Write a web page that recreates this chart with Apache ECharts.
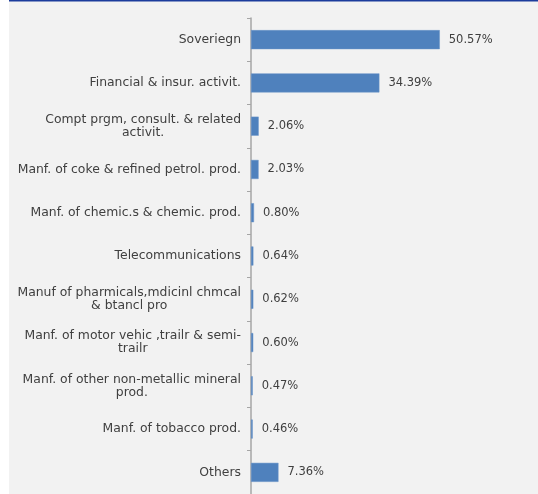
<!DOCTYPE html>
<html>
<head>
<meta charset="utf-8">
<script src="https://cdn.jsdelivr.net/npm/echarts@6/dist/echarts.min.js"></script>
<style>
  html, body { margin: 0; padding: 0; background: #ffffff; }
  #chart { width: 538px; height: 494px; }
</style>
</head>
<body>
<div id="chart"></div>
<script>
// Sector names (line breaks mark where long names wrap)
const categories = [
  'Soveriegn',
  'Financial & insur. activit.',
  'Compt prgm, consult. & related\nactivit.',
  'Manf. of coke & refined petrol. prod.',
  'Manf. of chemic.s & chemic. prod.',
  'Telecommunications',
  'Manuf of pharmicals,mdicinl chmcal\n& btancl pro',
  'Manf. of motor vehic ,trailr & semi-\ntrailr',
  'Manf. of other non-metallic mineral\nprod.',
  'Manf. of tobacco prod.',
  'Others'
];

// Share of exposure per sector, in percent
const shares = [50.57, 34.39, 2.06, 2.03, 0.80, 0.64, 0.62, 0.60, 0.47, 0.46, 7.36];

const FONT = 'DejaVu Sans';
const TEXT = '#404040';

const chart = echarts.init(document.getElementById('chart'), null, { renderer: 'canvas' });

chart.setOption({
  animation: false,
  backgroundColor: '#ffffff',
  graphic: [
    { type: 'rect', z: -10, silent: true,
      shape: { x: 9, y: 0, width: 529, height: 494 },
      style: { fill: '#f2f2f2' } },
    { type: 'rect', z: -9, silent: true,
      shape: { x: 9, y: 0, width: 529, height: 1.5 },
      style: { fill: '#1c3c9c' } }
  ],
  grid: { left: 251, right: 63, top: 18, bottom: -3, containLabel: false },
  xAxis: {
    type: 'value', min: 0, max: 60, show: false
  },
  yAxis: {
    type: 'category',
    inverse: true,
    data: categories,
    axisLine: { show: true, lineStyle: { color: '#a6a6a6', width: 1.5 } },
    axisTick: { show: true, length: 4, lineStyle: { color: '#a6a6a6', width: 1 } },
    axisLabel: {
      margin: 10,
      color: TEXT,
      fontFamily: FONT,
      fontSize: 12.4,
      lineHeight: 13,
      formatter: function (v) {
        return v.split('\n').map(function (l) { return '{c|' + l + '}'; }).join('\n');
      },
      rich: { c: { align: 'center', color: TEXT, fontFamily: FONT, fontSize: 12.4, lineHeight: 13 } }
    },
    splitLine: { show: false }
  },
  series: [{
    type: 'bar',
    data: shares,
    barWidth: '44%',
    itemStyle: { color: '#4f81bd', borderColor: '#6a95c9', borderWidth: 0.5 },
    label: {
      show: true,
      position: 'right',
      distance: 9,
      color: TEXT,
      fontFamily: FONT,
      fontSize: 11.5,
      formatter: function (p) { return p.value.toFixed(2) + '%'; }
    }
  }]
});
</script>
</body>
</html>
